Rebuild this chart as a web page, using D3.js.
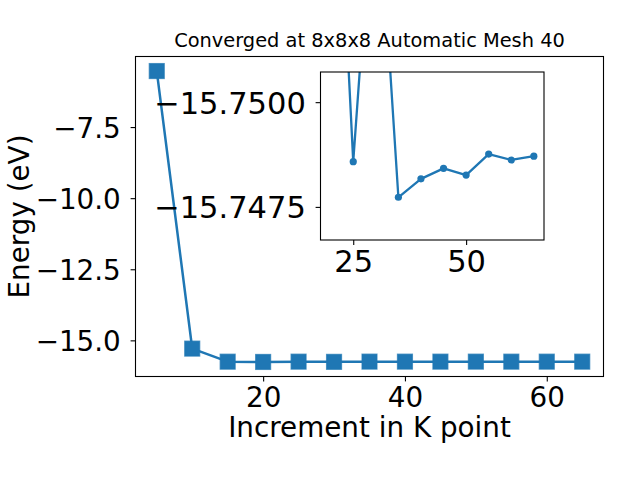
<!DOCTYPE html>
<html>
<head>
<meta charset="utf-8">
<script src="https://cdn.jsdelivr.net/npm/d3@7/dist/d3.min.js"></script>
<style>
  html, body { margin: 0; padding: 0; background: #fff; }
  svg { display: block; }
  text { font-family: "DejaVu Sans", sans-serif; fill: #000; }
</style>
</head>
<body>
<svg id="chart" width="640" height="480"></svg>
<script>
// ---- data ----
const kpoints = [5, 10, 15, 20, 25, 30, 35, 40, 45, 50, 55, 60, 65];
const energy = [-5.53, -15.29, -15.7495, -15.7593, -15.74858, -15.75607, -15.74773,
                -15.74817, -15.74842, -15.74826, -15.74876, -15.74862, -15.74871];
const insetStart = 3; // inset shows points from k = 20
const mainXTicks = [20, 40, 60];
const mainYTicks = [-15.0, -12.5, -10.0, -7.5];
const insetXTicks = [25, 50];
const insetYTicks = [-15.7500, -15.7475];
const insetYLim = [-15.75072, -15.74671]; // top -> bottom (inverted axis)
const title = "Converged at 8x8x8 Automatic Mesh 40";
const xLabel = "Increment in K point";
const yLabel = "Energy (eV)";

const color = "#1f77b4";
const svg = d3.select("#chart");
const minus = s => s.replace(/-/g, "\u2212");

// ---- main axes ----
const M = { left: 135.5, right: 603.5, top: 56.5, bottom: 376.5 };
const xExt = d3.extent(kpoints), xPad = (xExt[1] - xExt[0]) * 0.05;
const yExt = d3.extent(energy), yPad = (yExt[1] - yExt[0]) * 0.05;
const x = d3.scaleLinear().domain([xExt[0] - xPad, xExt[1] + xPad]).range([M.left, M.right]);
const y = d3.scaleLinear().domain([yExt[0] - yPad, yExt[1] + yPad]).range([M.bottom, M.top]);

const tickFont = 27.8;
const insetTickFont = 30.5;

const gx = svg.append("g").attr("transform", `translate(0,${M.bottom})`)
  .call(d3.axisBottom(x).tickValues(mainXTicks).tickSize(4.9).tickPadding(4.9).tickFormat(d3.format("d")));
gx.select(".domain").remove();
gx.selectAll("line").attr("stroke", "#000").attr("stroke-width", 1.1);
gx.selectAll("text").attr("font-size", tickFont).attr("dy", null).attr("y", 30).attr("font-family", "DejaVu Sans");

const gy = svg.append("g").attr("transform", `translate(${M.left},0)`)
  .call(d3.axisLeft(y).tickValues(mainYTicks).tickSize(4.9).tickPadding(9.8).tickFormat(d => minus(d3.format(".1f")(d))));
gy.select(".domain").remove();
gy.selectAll("line").attr("stroke", "#000").attr("stroke-width", 1.1);
gy.selectAll("text").attr("font-size", tickFont).attr("dy", "0.36em").attr("font-family", "DejaVu Sans");

const line = d3.line().x((d, i) => x(kpoints[i])).y(d => y(d));
svg.append("path").datum(energy).attr("d", line)
  .attr("fill", "none").attr("stroke", color).attr("stroke-width", 2.5).attr("stroke-linejoin", "round");
const sq = 15;
svg.append("g").selectAll("rect").data(energy).join("rect")
  .attr("x", (d, i) => x(kpoints[i]) - sq / 2).attr("y", d => y(d) - sq / 2)
  .attr("width", sq).attr("height", sq)
  .attr("fill", color).attr("stroke", color).attr("stroke-width", 1.2).attr("stroke-opacity", 0.7);

svg.append("rect").attr("x", M.left).attr("y", M.top)
  .attr("width", M.right - M.left).attr("height", M.bottom - M.top)
  .attr("fill", "none").attr("stroke", "#000").attr("stroke-width", 1.1);

svg.append("text").attr("x", (M.left + M.right) / 2).attr("y", 436.5)
  .attr("text-anchor", "middle").attr("font-size", 27.8).text(xLabel);
svg.append("text").attr("transform", `translate(29,${(M.top + M.bottom) / 2}) rotate(-90)`)
  .attr("text-anchor", "middle").attr("font-size", 27.8).text(yLabel);
svg.append("text").attr("x", (M.left + M.right) / 2).attr("y", 47)
  .attr("text-anchor", "middle").attr("font-size", 19.4).text(title);

// ---- inset axes ----
const I = { left: 320.5, right: 544, top: 72, bottom: 240 };
const ik = kpoints.slice(insetStart), ie = energy.slice(insetStart);
const ixExt = d3.extent(ik), ixPad = (ixExt[1] - ixExt[0]) * 0.05;
const ix = d3.scaleLinear().domain([ixExt[0] - ixPad, ixExt[1] + ixPad]).range([I.left, I.right]);
const iy = d3.scaleLinear().domain(insetYLim).range([I.top, I.bottom]);

svg.append("rect").attr("x", I.left).attr("y", I.top)
  .attr("width", I.right - I.left).attr("height", I.bottom - I.top).attr("fill", "#fff");

svg.append("clipPath").attr("id", "insetClip").append("rect")
  .attr("x", I.left).attr("y", I.top).attr("width", I.right - I.left).attr("height", I.bottom - I.top);

const ig = svg.append("g").attr("clip-path", "url(#insetClip)");
const iline = d3.line().x((d, i) => ix(ik[i])).y(d => iy(d));
ig.append("path").datum(ie).attr("d", iline)
  .attr("fill", "none").attr("stroke", color).attr("stroke-width", 2.3).attr("stroke-linejoin", "round");
ig.selectAll("circle").data(ie).join("circle")
  .attr("cx", (d, i) => ix(ik[i])).attr("cy", d => iy(d)).attr("r", 3.6).attr("fill", color);

svg.append("rect").attr("x", I.left).attr("y", I.top)
  .attr("width", I.right - I.left).attr("height", I.bottom - I.top)
  .attr("fill", "none").attr("stroke", "#000").attr("stroke-width", 1.1);

const igx = svg.append("g").attr("transform", `translate(0,${I.bottom})`)
  .call(d3.axisBottom(ix).tickValues(insetXTicks).tickSize(4.9).tickPadding(4.9).tickFormat(d3.format("d")));
igx.select(".domain").remove();
igx.selectAll("line").attr("stroke", "#000").attr("stroke-width", 1.1);
igx.selectAll("text").attr("font-size", insetTickFont).attr("dy", null).attr("y", 31.7).attr("font-family", "DejaVu Sans");

const igy = svg.append("g").attr("transform", `translate(${I.left},0)`)
  .call(d3.axisLeft(iy).tickValues(insetYTicks).tickSize(4.9).tickPadding(9.8).tickFormat(d => minus(d3.format(".4f")(d))));
igy.select(".domain").remove();
igy.selectAll("line").attr("stroke", "#000").attr("stroke-width", 1.1);
igy.selectAll("text").attr("font-size", insetTickFont).attr("dy", "0.36em").attr("font-family", "DejaVu Sans");
</script>
</body>
</html>
